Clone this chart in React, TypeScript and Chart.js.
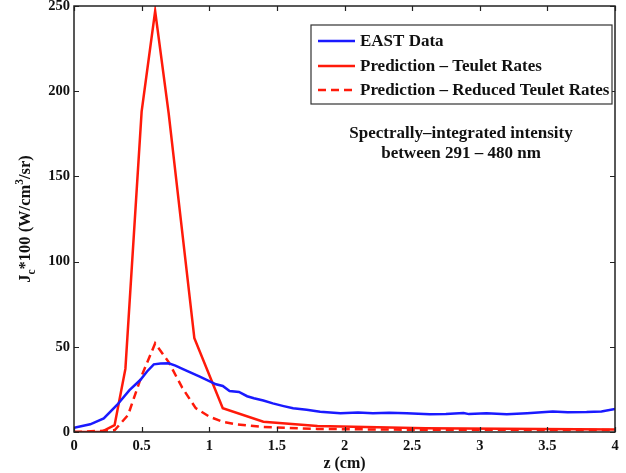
import React, { useEffect, useRef } from 'react';
import { Chart, registerables } from 'chart.js';

Chart.register(...registerables);

// ---- data ----
const xTicks = [0, 0.5, 1, 1.5, 2, 2.5, 3, 3.5, 4];
const yTicks = [0, 50, 100, 150, 200, 250];

const eastZ = [0, 0.12, 0.22, 0.32, 0.41, 0.49, 0.54, 0.59, 0.64, 0.7, 0.75, 0.81, 0.93, 1.05, 1.1, 1.15, 1.22, 1.28, 1.33, 1.4, 1.47, 1.55, 1.62, 1.72, 1.82, 1.97, 2.1, 2.21, 2.33, 2.46, 2.63, 2.75, 2.88, 2.92, 3.05, 3.2, 3.35, 3.54, 3.65, 3.79, 3.9, 4.0];
const eastValues = [2.5, 4.5, 8, 16, 24.6, 30.5, 35.5, 39.7, 40.2, 40.3, 39, 36.8, 32.5, 28, 27, 24, 23.5, 21, 19.8, 18.5, 16.8, 15.2, 13.9, 13, 11.9, 11, 11.4, 11, 11.3, 11, 10.4, 10.6, 11.2, 10.5, 11, 10.4, 11, 12, 11.6, 11.7, 12, 13.5];

const teuletZ = [0, 0.2, 0.3, 0.38, 0.5, 0.6, 0.7, 0.89, 1.1, 1.4, 1.8, 2.6, 4.0];
const teuletValues = [0, 0, 4, 37, 188, 247, 187, 55, 14, 6, 3.5, 2.2, 1.5];

const reducedZ = [0, 0.3, 0.4, 0.5, 0.6, 0.7, 0.8, 0.9, 1.0, 1.1, 1.2, 1.4, 1.8, 2.5, 4.0];
const reducedValues = [0, 1, 10, 33, 52, 41, 26, 14, 9, 6, 4.5, 3, 1.8, 1.3, 1.2];

const seriesLabels = ['EAST Data', 'Prediction \u2013 Teulet Rates', 'Prediction \u2013 Reduced Teulet Rates'];
const annotationLines = ['Spectrally\u2013integrated intensity', 'between 291 \u2013 480 nm'];

const BLUE = '#1a1aff';
const RED = '#ff1a0a';
const SERIF = "'Liberation Serif', 'Times New Roman', serif";

const toPoints = (xs: number[], ys: number[]) => xs.map((x, i) => ({ x, y: ys[i] }));

const customPlugin = {
  id: 'customDecor',
  afterDraw(chart: any) {
    const { ctx, chartArea, scales } = chart;
    const { left, right, top, bottom } = chartArea;
    const xs = scales.x;
    const ys = scales.y;
    ctx.save();

    // axis box
    ctx.strokeStyle = '#222';
    ctx.lineWidth = 1.5;
    ctx.strokeRect(left, top, right - left, bottom - top);

    // inward ticks
    ctx.lineWidth = 1.2;
    ctx.beginPath();
    xTicks.forEach((v) => {
      const px = Math.round(xs.getPixelForValue(v)) + 0.5;
      ctx.moveTo(px, bottom);
      ctx.lineTo(px, bottom - 5);
      ctx.moveTo(px, top);
      ctx.lineTo(px, top + 5);
    });
    yTicks.forEach((v) => {
      const py = Math.round(ys.getPixelForValue(v)) + 0.5;
      ctx.moveTo(left, py);
      ctx.lineTo(left + 5, py);
      ctx.moveTo(right, py);
      ctx.lineTo(right - 5, py);
    });
    ctx.stroke();

    // legend
    const lx = 311, ly = 25, lw = 301, lh = 79;
    ctx.fillStyle = '#fff';
    ctx.fillRect(lx, ly, lw, lh);
    ctx.strokeStyle = '#333';
    ctx.lineWidth = 1.2;
    ctx.strokeRect(lx, ly, lw, lh);
    const rows = [41, 66, 90];
    const colors = [BLUE, RED, RED];
    const dashes = [[], [], [8, 5]];
    rows.forEach((ry, i) => {
      ctx.strokeStyle = colors[i];
      ctx.lineWidth = 2.5;
      ctx.setLineDash(dashes[i]);
      ctx.beginPath();
      ctx.moveTo(318, ry);
      ctx.lineTo(355, ry);
      ctx.stroke();
      ctx.setLineDash([]);
      ctx.fillStyle = '#111';
      ctx.font = `bold 17px ${SERIF}`;
      ctx.textAlign = 'left';
      ctx.textBaseline = 'middle';
      ctx.fillText(seriesLabels[i], 360, ry + 1);
    });

    // annotation
    ctx.fillStyle = '#111';
    ctx.font = `bold 17px ${SERIF}`;
    ctx.textAlign = 'center';
    ctx.textBaseline = 'middle';
    ctx.fillText(annotationLines[0], 461, 134);
    ctx.fillText(annotationLines[1], 461, 154);

    // y title with sub/superscripts
    const parts = [
      { t: 'J', size: 16.5, dy: 0 },
      { t: 'c', size: 11.5, dy: 5 },
      { t: '*100 (W/cm', size: 16.5, dy: 0 },
      { t: '3', size: 11.5, dy: -7 },
      { t: '/sr)', size: 16.5, dy: 0 },
    ];
    let total = 0;
    parts.forEach((p) => {
      ctx.font = `bold ${p.size}px ${SERIF}`;
      total += ctx.measureText(p.t).width;
    });
    ctx.translate(30, (top + bottom) / 2);
    ctx.rotate(-Math.PI / 2);
    ctx.textAlign = 'left';
    ctx.textBaseline = 'alphabetic';
    let cx = -total / 2;
    parts.forEach((p) => {
      ctx.font = `bold ${p.size}px ${SERIF}`;
      ctx.fillText(p.t, cx, p.dy);
      cx += ctx.measureText(p.t).width;
    });

    ctx.restore();
  },
};

export default function App() {
  const canvasRef = useRef<HTMLCanvasElement | null>(null);

  useEffect(() => {
    if (!canvasRef.current) return;
    const chart = new Chart(canvasRef.current, {
      type: 'line',
      data: {
        datasets: [
          {
            label: seriesLabels[0],
            data: toPoints(eastZ, eastValues),
            borderColor: BLUE,
            borderWidth: 2.5,
            pointRadius: 0,
            tension: 0,
          },
          {
            label: seriesLabels[1],
            data: toPoints(teuletZ, teuletValues),
            borderColor: RED,
            borderWidth: 2.5,
            pointRadius: 0,
            tension: 0,
          },
          {
            label: seriesLabels[2],
            data: toPoints(reducedZ, reducedValues),
            borderColor: RED,
            borderWidth: 2.5,
            borderDash: [8, 5],
            pointRadius: 0,
            tension: 0,
          },
        ],
      },
      options: {
        animation: false,
        responsive: true,
        maintainAspectRatio: false,
        layout: { padding: { left: 0, top: 6, right: 11, bottom: 0 } },
        plugins: {
          legend: { display: false },
          tooltip: { enabled: false },
          title: { display: false },
        },
        scales: {
          x: {
            type: 'linear',
            min: 0,
            max: 4,
            afterBuildTicks: (scale: any) => {
              scale.ticks = xTicks.map((v) => ({ value: v }));
            },
            afterFit: (scale: any) => {
              scale.height = 41;
              scale.paddingLeft = 0;
              scale.paddingRight = 0;
            },
            grid: { display: false, drawTicks: false },
            border: { display: false },
            ticks: {
              padding: 6,
              color: '#111',
              font: { family: SERIF, size: 14.5, weight: 'bold' },
              callback: (v: any) => String(v),
              maxRotation: 0,
            },
            title: {
              display: true,
              text: 'z (cm)',
              color: '#111',
              font: { family: SERIF, size: 16, weight: 'bold' },
              padding: { top: 0, bottom: 0 },
            },
          },
          y: {
            type: 'linear',
            min: 0,
            max: 250,
            afterBuildTicks: (scale: any) => {
              scale.ticks = yTicks.map((v) => ({ value: v }));
            },
            afterFit: (scale: any) => {
              scale.width = 74;
              scale.paddingTop = 0;
              scale.paddingBottom = 0;
            },
            grid: { display: false, drawTicks: false },
            border: { display: false },
            ticks: {
              padding: 4,
              color: '#111',
              font: { family: SERIF, size: 14.5, weight: 'bold' },
            },
          },
        },
      },
      plugins: [customPlugin],
    } as any);
    return () => chart.destroy();
  }, []);

  return (
    <div style={{ position: 'fixed', left: 0, top: 0, width: 626, height: 473, background: '#fff' }}>
      <canvas ref={canvasRef} />
    </div>
  );
}
